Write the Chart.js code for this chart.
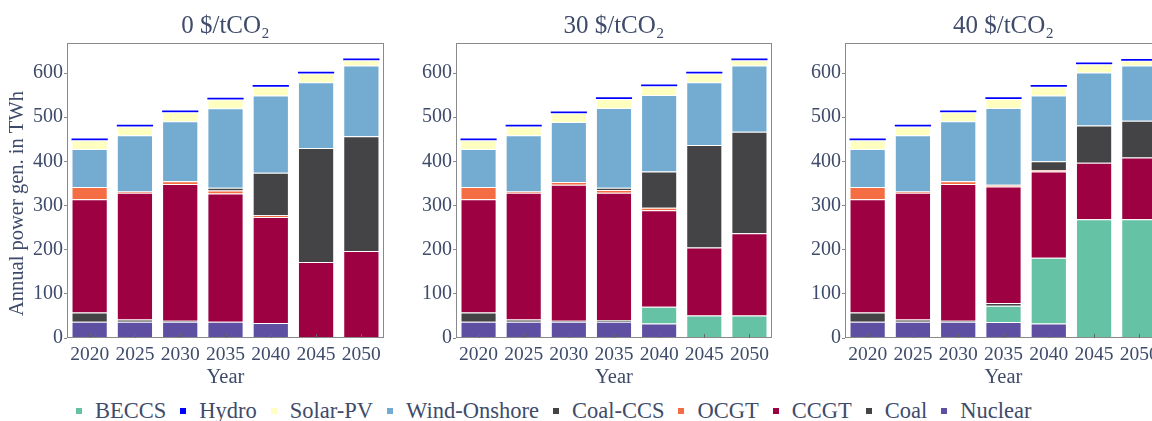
<!DOCTYPE html>
<html>
<head>
<meta charset="utf-8">
<title>Annual power generation by CO2 price</title>
<script src="https://cdn.jsdelivr.net/npm/chart.js@4.4.1/dist/chart.umd.min.js"></script>
<style>
  html, body { margin: 0; padding: 0; background: #fff; overflow: hidden; }
  #page { position: relative; width: 1152px; height: 421px; overflow: hidden; }
  .panel { position: absolute; top: 0; }
  #legend {
    position: absolute; left: 76px; top: 399px; display: flex; align-items: center;
    font-family: "Liberation Serif", "Times New Roman", serif; font-size: 22.5px;
    line-height: 24px; color: #3e4b6a; white-space: nowrap;
  }
  #legend .item { display: flex; align-items: center; margin-right: 14px; }
  #legend .swatch { width: 6px; height: 6px; margin-right: 13px; }
</style>
</head>
<body>
<div id="page">
  <canvas id="c0" class="panel" width="392" height="392" style="left:0px"></canvas>
  <canvas id="c30" class="panel" width="388" height="392" style="left:392px"></canvas>
  <canvas id="c40" class="panel" width="390" height="392" style="left:780px"></canvas>
  <div id="legend"></div>
</div>
<script>
var years = ['2020', '2025', '2030', '2035', '2040', '2045', '2050'];
var yTicks = [0, 100, 200, 300, 400, 500, 600];
var yTitle = 'Annual power gen. in TWh';

// stacking order, bottom first
var techs = ['Nuclear', 'BECCS', 'Coal', 'CCGT', 'OCGT', 'Coal-CCS', 'Wind-Onshore', 'Solar-PV', 'Hydro'];
var techColors = ['#5e4fa2', '#66c2a5', '#444446', '#9e0142', '#f46d43', '#444446', '#74acd1', '#ffffbf', '#0000ff'];
var legendOrder = ['BECCS', 'Hydro', 'Solar-PV', 'Wind-Onshore', 'Coal-CCS', 'OCGT', 'CCGT', 'Coal', 'Nuclear'];

// TWh, 0 $/tCO2
var nuclear0  = [37, 37, 37, 37, 34, 0, 0];
var beccs0    = [0, 0, 0, 0, 0, 0, 0];
var coal0     = [21, 5, 2, 0, 0, 0, 0];
var ccgt0     = [256, 287, 310, 290, 240, 172, 197];
var ocgt0     = [28, 3, 6, 7, 4, 0, 0];
var coalCcs0  = [0, 0, 0, 6, 96, 258, 260];
var wind0     = [86, 127, 136, 180, 175, 149, 160];
var solar0    = [20, 20, 20, 20, 20, 20, 12];
var hydro0    = [4, 4, 4, 4, 4, 4, 4];

// TWh, 30 $/tCO2
var nuclear30 = [37, 37, 37, 37, 33, 0, 0];
var beccs30   = [0, 0, 0, 0, 38, 51, 51];
var coal30    = [21, 5, 2, 4, 0, 0, 0];
var ccgt30    = [256, 287, 308, 288, 218, 154, 186];
var ocgt30    = [28, 3, 6, 6, 6, 0, 0];
var coalCcs30 = [0, 0, 0, 5, 82, 232, 230];
var wind30    = [86, 127, 136, 181, 173, 142, 150];
var solar30   = [20, 20, 20, 20, 20, 20, 12];
var hydro30   = [4, 4, 4, 4, 4, 4, 4];

// TWh, 40 $/tCO2
var nuclear40 = [37, 37, 37, 36, 33, 0, 0];
var beccs40   = [0, 0, 0, 37, 149, 269, 269];
var coal40    = [21, 5, 2, 6, 0, 0, 0];
var ccgt40    = [256, 287, 310, 264, 195, 128, 140];
var ocgt40    = [28, 3, 6, 4, 3, 0, 0];
var coalCcs40 = [0, 0, 0, 0, 20, 84, 83];
var wind40    = [86, 127, 136, 174, 149, 120, 125];
var solar40   = [20, 20, 20, 20, 20, 19, 11];
var hydro40   = [4, 4, 4, 4, 4, 4, 4];

var panels = [
  { id: 'c0', title: '0 $/tCO\u2082', yWidth: 67, showYTitle: true,
    series: [nuclear0, beccs0, coal0, ccgt0, ocgt0, coalCcs0, wind0, solar0, hydro0] },
  { id: 'c30', title: '30 $/tCO\u2082', yWidth: 64, showYTitle: false,
    series: [nuclear30, beccs30, coal30, ccgt30, ocgt30, coalCcs30, wind30, solar30, hydro30] },
  { id: 'c40', title: '40 $/tCO\u2082', yWidth: 65, showYTitle: false,
    series: [nuclear40, beccs40, coal40, ccgt40, ocgt40, coalCcs40, wind40, solar40, hydro40] }
];

var textColor = '#3e4b6a';
var serif = '"Liberation Serif", "Times New Roman", serif';

// box around the plot area plus small inward ticks at each year
var framePlugin = {
  id: 'frame',
  afterDatasetsDraw: function(chart) {
    var a = chart.chartArea, ctx = chart.ctx, x = chart.scales.x;
    ctx.save();
    ctx.lineWidth = 1;
    ctx.strokeStyle = '#8a8a8a';
    ctx.strokeRect(a.left + 0.5, a.top + 0.5, a.right - a.left - 1, a.bottom - a.top - 1);
    ctx.strokeStyle = '#666';
    x.ticks.forEach(function(t, i) {
      var px = Math.round(x.getPixelForTick(i)) + 0.5;
      ctx.beginPath();
      ctx.moveTo(px, a.bottom);
      ctx.lineTo(px, a.bottom - 4);
      ctx.stroke();
    });
    ctx.restore();
  }
};

// vertical axis label, sitting a little below the middle of the frame
var yTitlePlugin = {
  id: 'yTitle',
  afterDraw: function(chart, args, opts) {
    if (!opts.show) return;
    var a = chart.chartArea, ctx = chart.ctx;
    ctx.save();
    ctx.translate(18, (a.top + a.bottom) / 2 + 13);
    ctx.rotate(-Math.PI / 2);
    ctx.fillStyle = textColor;
    ctx.font = '20.5px ' + serif;
    ctx.textAlign = 'center';
    ctx.textBaseline = 'middle';
    ctx.fillText(yTitle, 0, 0);
    ctx.restore();
  }
};

panels.forEach(function(p) {
  var datasets = techs.map(function(name, i) {
    return {
      label: name,
      data: p.series[i],
      backgroundColor: techColors[i],
      borderColor: 'rgba(255,255,255,0.45)',
      borderWidth: name === 'Hydro' ? 0 : 1,
      barPercentage: 0.8,
      categoryPercentage: 1.0
    };
  });

  new Chart(document.getElementById(p.id), {
    type: 'bar',
    data: { labels: years, datasets: datasets },
    plugins: [framePlugin, yTitlePlugin],
    options: {
      responsive: false,
      animation: false,
      layout: { padding: { left: 0, right: 8, top: 0, bottom: 0 } },
      plugins: {
        legend: { display: false },
        tooltip: { enabled: false },
        yTitle: { show: p.showYTitle },
        title: {
          display: true,
          text: p.title,
          fullSize: false,
          color: textColor,
          font: { family: serif, size: 25, weight: 'normal' },
          padding: { top: 11, bottom: 2 }
        }
      },
      scales: {
        x: {
          stacked: true,
          grid: { display: false, drawTicks: false },
          border: { display: false },
          ticks: { color: textColor, padding: 5, maxRotation: 0, autoSkip: false,
                   font: { family: serif, size: 19.5 } },
          title: { display: true, text: 'Year', color: textColor,
                   font: { family: serif, size: 20.5 }, padding: { top: 0, bottom: 2 } },
          afterFit: function(axis) { axis.height = 54; }
        },
        y: {
          stacked: true,
          min: 0,
          max: 668,
          afterBuildTicks: function(axis) {
            axis.ticks = yTicks.map(function(v) { return { value: v }; });
          },
          afterFit: function(axis) { axis.width = p.yWidth; },
          grid: { drawOnChartArea: false, drawTicks: true, tickLength: 3, color: '#8a8a8a' },
          border: { display: false },
          ticks: { color: textColor, padding: 1, font: { family: serif, size: 20 } }
        }
      }
    }
  });
});

// shared legend under the three panels
var legend = document.getElementById('legend');
legendOrder.forEach(function(name) {
  var item = document.createElement('div');
  item.className = 'item';
  var sw = document.createElement('span');
  sw.className = 'swatch';
  sw.style.background = techColors[techs.indexOf(name)];
  var label = document.createElement('span');
  label.textContent = name;
  item.appendChild(sw);
  item.appendChild(label);
  legend.appendChild(item);
});
</script>
</body>
</html>
